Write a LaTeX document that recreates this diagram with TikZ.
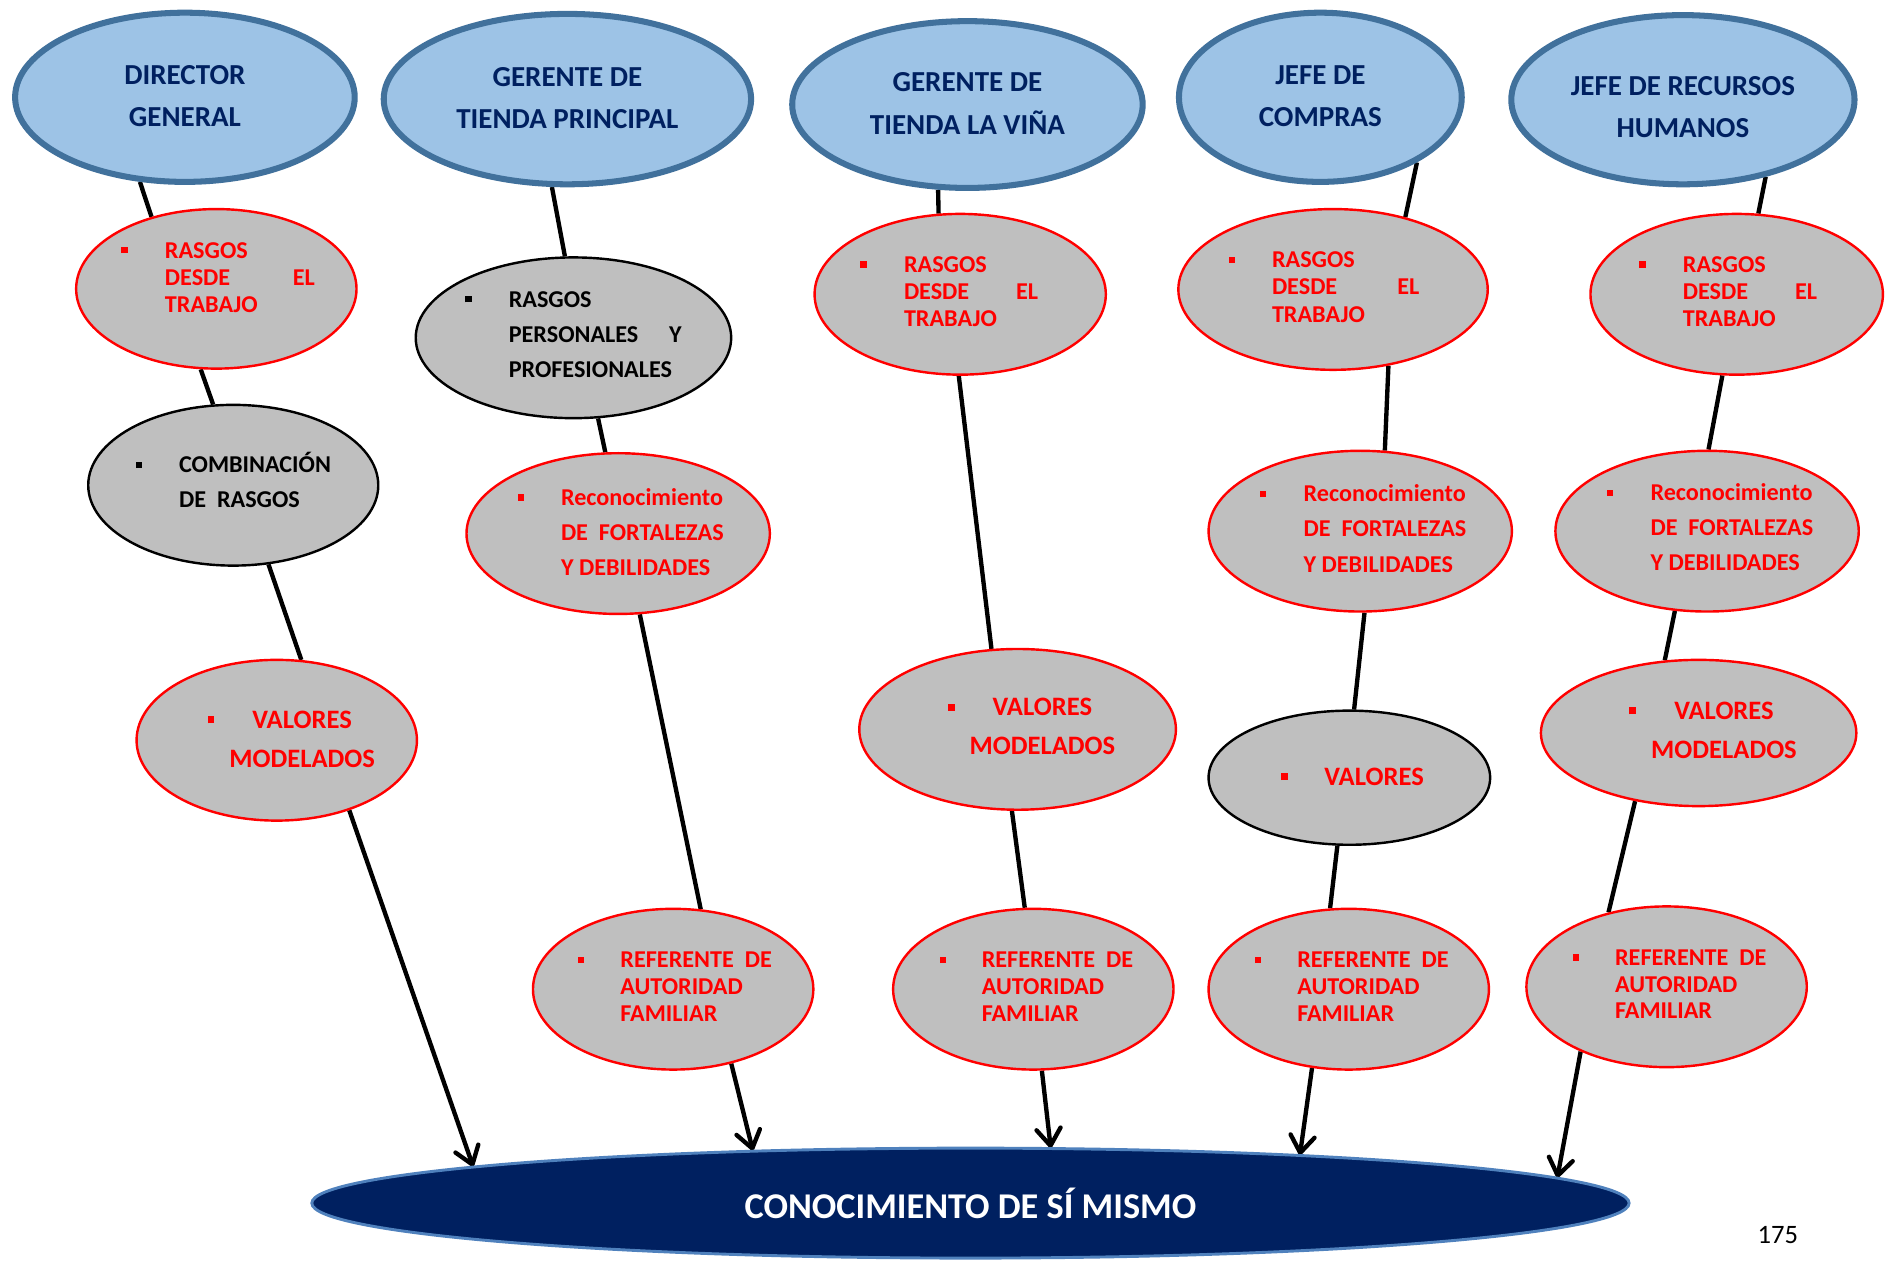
\documentclass[tikz,border=0pt]{standalone}
\usepackage{fontspec}
\setmainfont{Carlito}
\usetikzlibrary{shapes.geometric,arrows.meta,backgrounds}
\definecolor{tblue}{HTML}{9DC3E6}
\definecolor{tborder}{HTML}{41719C}
\definecolor{navy}{HTML}{002060}
\definecolor{grayfill}{HTML}{BFBFBF}
\definecolor{redc}{HTML}{FF0000}
\definecolor{ringblue}{HTML}{4F81BD}

\newcommand\bsq{\rule[0.2em]{0.26em}{0.26em}}
\newcommand\bpre[1][18pt]{\makebox[#1][l]{\bsq}}
\newcommand\ttltext[2]{\begin{tabular}{@{}c@{}}#1\\#2\end{tabular}}
\newcommand\rasgos[1]{\begin{tabular}{@{}l@{}l@{}}\bpre & RASGOS\\ & \makebox[#1][l]{DESDE\hfill EL}\\ & TRABAJO\end{tabular}}
\newcommand\recon{\begin{tabular}{@{}l@{}l@{}}\bpre & Reconocimiento\\ & DE~~FORTALEZAS\\ & Y DEBILIDADES\end{tabular}}
\newcommand\refer{\begin{tabular}{@{}l@{}l@{}}\bpre[17.5pt] & REFERENTE~~DE\\ & AUTORIDAD\\ & FAMILIAR\end{tabular}}
\newcommand\valmod{\begin{tabular}{@{}l@{}c@{}}\bpre[9pt] & VALORES\\ & MODELADOS\end{tabular}}
\newcommand\valsolo{\begin{tabular}{@{}l@{}l@{}}\bpre & VALORES\end{tabular}}
\newcommand\comb{\begin{tabular}{@{}l@{}l@{}}\bpre & COMBINACIÓN\\ & DE~~RASGOS\end{tabular}}
\newcommand\perso{\begin{tabular}{@{}l@{}l@{}}\bpre & RASGOS\\ & \makebox[71.5pt][l]{PERSONALES\hfill Y}\\ & PROFESIONALES\end{tabular}}

\tikzset{
  topell/.style={ellipse, draw=tborder, line width=2.5pt, fill=tblue, inner sep=0pt},
  redell/.style={ellipse, draw=redc, line width=1pt, fill=grayfill, inner sep=0pt},
  blkell/.style={ellipse, draw=black, line width=1pt, fill=grayfill, inner sep=0pt},
  ttl/.style={font=\fontsize{12}{17.5}\selectfont\bfseries, text=navy, inner sep=0pt},
  rtxt/.style={font=\fontsize{10}{11.25}\selectfont\bfseries, text=redc, inner sep=0pt},
  rtxtw/.style={font=\fontsize{10}{14.5}\selectfont\bfseries, text=redc, inner sep=0pt},
  rtxtr/.style={font=\fontsize{10}{11}\selectfont\bfseries, text=redc, inner sep=0pt},
  vtxt/.style={font=\fontsize{11}{16}\selectfont\bfseries, text=redc, inner sep=0pt},
  btxt/.style={font=\fontsize{10}{14.5}\selectfont\bfseries, text=black, inner sep=0pt},
  bigtxt/.style={font=\fontsize{15}{18}\selectfont\bfseries, text=white, inner sep=0pt},
  conn/.style={line width=1.8pt, black},
  arr/.style={line width=1.8pt, black, -{Straight Barb[length=7pt,width=10pt,round]}},
}

\begin{document}
\begin{tikzpicture}[x=0.5pt,y=-0.5pt]
\useasboundingbox (0,0) rectangle (1568,1043);

% top row
\node[topell, minimum width=140.5pt, minimum height=70pt,
  label={[ttl]center:{\ttltext{DIRECTOR}{GENERAL}}}] (t1) at (153,80.5) {};
\node[topell, minimum width=152pt, minimum height=70.5pt,
  label={[ttl]center:{\ttltext{GERENTE DE}{TIENDA PRINCIPAL}}}] (t2) at (469.5,82) {};
\node[topell, minimum width=145pt, minimum height=69pt,
  label={[ttl]center:{\ttltext{GERENTE DE}{TIENDA LA VIÑA}}}] (t3) at (800.5,86.5) {};
\node[topell, minimum width=117pt, minimum height=70pt,
  label={[ttl]center:{\ttltext{JEFE DE}{COMPRAS}}}] (t4) at (1092.5,80.5) {};
\node[topell, minimum width=142pt, minimum height=70pt,
  label={[ttl,yshift=-3.5pt]center:{\ttltext{JEFE DE RECURSOS}{HUMANOS}}}] (t5) at (1392.5,82.5) {};

% column 1
\node[redell, minimum width=116pt, minimum height=66pt,
  label={[rtxt,xshift=0.75pt,yshift=3.75pt]center:{\rasgos{62pt}}}] (c1a) at (179,239) {};
\node[blkell, minimum width=120pt, minimum height=66.5pt,
  label={[btxt,yshift=0.75pt]center:{\comb}}] (c1b) at (193,401.5) {};
\node[redell, minimum width=116pt, minimum height=66.5pt,
  label={[vtxt,xshift=6pt]center:{\valmod}}] (c1c) at (229,612.5) {};

% column 2
\node[blkell, minimum width=130.5pt, minimum height=66.5pt,
  label={[btxt,yshift=1pt]center:{\perso}}] (c2a) at (474.5,279.5) {};
\node[redell, minimum width=125.5pt, minimum height=66.5pt,
  label={[rtxtw,xshift=1pt]center:{\recon}}] (c2b) at (511.5,441.5) {};
\node[redell, minimum width=116pt, minimum height=66.5pt,
  label={[rtxtr,xshift=0.75pt]center:{\refer}}] (c2c) at (557,818.5) {};

% column 3
\node[redell, minimum width=120.5pt, minimum height=66.5pt,
  label={[rtxt,xshift=-4.5pt]center:{\rasgos{55.5pt}}}] (c3a) at (794.5,243.5) {};
\node[redell, minimum width=131pt, minimum height=66.5pt,
  label={[vtxt,xshift=5.75pt,yshift=0.75pt]center:{\valmod}}] (c3b) at (842,603.5) {};
\node[redell, minimum width=116pt, minimum height=66.5pt,
  label={[rtxtr,xshift=1.25pt]center:{\refer}}] (c3c) at (855,818.5) {};

% column 4
\node[redell, minimum width=128pt, minimum height=66.5pt,
  label={[rtxt,xshift=-3.75pt]center:{\rasgos{61pt}}}] (c4a) at (1103,239.5) {};
\node[redell, minimum width=125.5pt, minimum height=66.5pt,
  label={[rtxtw,xshift=1.25pt,yshift=0.5pt]center:{\recon}}] (c4b) at (1125.5,439.5) {};
\node[blkell, minimum width=116.5pt, minimum height=55.5pt,
  label={[vtxt,xshift=1.25pt]center:{\valsolo}}] (c4c) at (1116.5,643.5) {};
\node[redell, minimum width=116pt, minimum height=66.5pt,
  label={[rtxtr,xshift=1.25pt]center:{\refer}}] (c4d) at (1116,818.5) {};

% column 5
\node[redell, minimum width=121pt, minimum height=66.5pt,
  label={[rtxt,xshift=-3.5pt]center:{\rasgos{55.5pt}}}] (c5a) at (1437,243.5) {};
\node[redell, minimum width=125.5pt, minimum height=66.5pt,
  label={[rtxtw,xshift=1.25pt,yshift=1pt]center:{\recon}}] (c5b) at (1412.5,439.5) {};
\node[redell, minimum width=130.5pt, minimum height=60.5pt,
  label={[vtxt,xshift=6pt,yshift=0.75pt]center:{\valmod}}] (c5c) at (1405.5,606.5) {};
\node[redell, minimum width=116pt, minimum height=66.5pt,
  label={[rtxtr,xshift=1.25pt]center:{\refer}}] (c5d) at (1379,816.5) {};

% bottom
\node[ellipse, fill=navy, draw=ringblue, line width=1.2pt, inner sep=0pt,
  minimum width=545pt, minimum height=45.5pt,
  label={[bigtxt]center:{CONOCIMIENTO DE SÍ MISMO}}] (conoc) at (803,995.5) {};

% arrow end points on the rim of the bottom ellipse
\coordinate (e1) at (391.5,965.3);
\coordinate (e2) at (622.9,952);
\coordinate (e3) at (869.4,949.8);
\coordinate (e4) at (1075.6,955.7);
\coordinate (e5) at (1288.6,974.5);

\node[font=\fontsize{11}{13}\selectfont, inner sep=0pt] (pnum) at (1471,1022) {175};

\begin{scope}[on background layer]
\fill[white] (0,0) rectangle (1568,1043);
% column 1
\draw[conn] (t1.-118.5) -- (c1a.132);
\draw[conn] (c1a.-101) -- (c1b.104.2);
\draw[conn] (c1b.-66.6) -- (c1c.73.9);
\draw[arr] (c1c.-44.1) -- (e1);
% column 2
\draw[conn] (t2.-100.9) -- (c2a.96.7);
\draw[conn] (c2a.-73.4) -- (c2b.99.3);
\draw[conn] (c2b.-75.2) -- (c2c.71.1);
\draw[arr] (c2c.-52) -- (e2);
% column 3
\draw[conn] (t3.-109.9) -- (c3a.105);
\draw[conn] (c3a.-91.7) -- (c3b.108.2);
\draw[conn] (c3b.-94.2) -- (c3c.96.8);
\draw[arr] (c3c.-84.1) -- (e3);
% column 4
\draw[conn] (t4.-34.2) -- (c4a.45);
\draw[conn] (c4a.-54.2) -- (c4b.73.4);
\draw[conn] (c4b.-87.5) -- (c4c.86.9);
\draw[conn] (c4c.-100.9) -- (c4d.103.4);
\draw[arr] (c4d.-115.9) -- (e4);
% column 5
\draw[conn] (t5.-43.3) -- (c5a.75.8);
\draw[conn] (c5a.-100) -- (c5b.89.1);
\draw[conn] (c5b.-112.4) -- (c5c.115.4);
\draw[conn] (c5c.-133.5) -- (c5d.128.8);
\draw[arr] (c5d.-143.1) -- (e5);
\end{scope}
\end{tikzpicture}
\end{document}
